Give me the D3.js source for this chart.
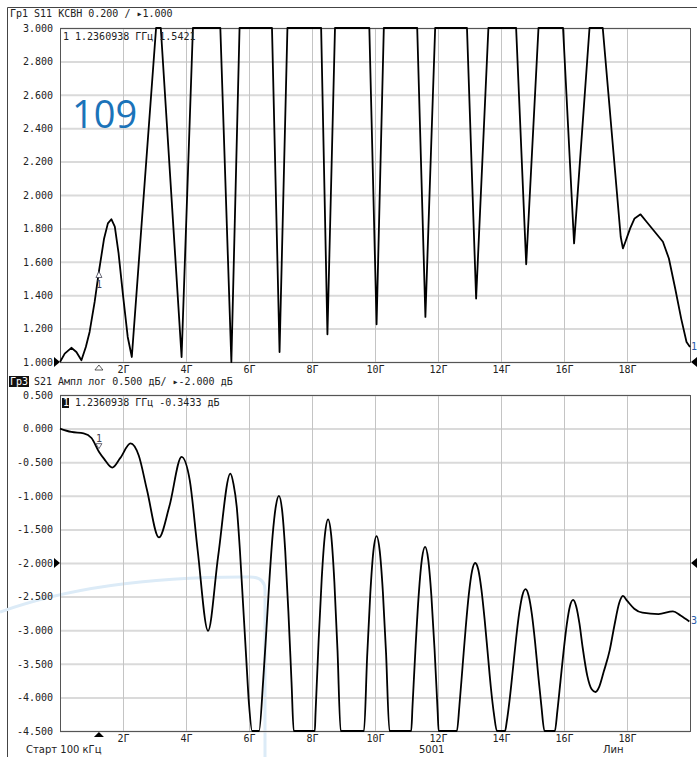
<!doctype html>
<html>
<head>
<meta charset="UTF-8">
<title>S11 / S21</title>
<script src="https://d3js.org/d3.v7.min.js"></script>
<style>
  body { margin: 0; background: #fff; }
  text { font-family: "DejaVu Sans Mono", monospace; font-size: 10px; fill: #222; }
</style>
</head>
<body>
<svg id="chart" width="698" height="757"></svg>
<script>
// ---- data ----
var freqTicks  = [2, 4, 6, 8, 10, 12, 14, 16, 18];
var freqLabels = ["2Г", "4Г", "6Г", "8Г", "10Г", "12Г", "14Г", "16Г", "18Г"];
var s11Ticks = [1.0, 1.2, 1.4, 1.6, 1.8, 2.0, 2.2, 2.4, 2.6, 2.8, 3.0];
var s21Ticks = [0.5, 0, -0.5, -1, -1.5, -2, -2.5, -3, -3.5, -4, -4.5];

// S11, VSWR (GHz)
var s11Freq = [0.0001, 0.15, 0.36, 0.52, 0.68, 0.82, 0.94, 1.1, 1.236, 1.4, 1.52, 1.63, 1.74, 1.86, 2.0, 2.15, 2.28,
  3.05, 3.2, 3.86, 4.22, 5.09, 5.44, 5.7, 6.73, 6.97, 7.22, 8.29, 8.49, 8.73, 9.82, 10.05, 10.28, 11.34, 11.6, 11.91,
  12.92, 13.21, 13.6, 14.48, 14.8, 15.19, 15.97, 16.32, 16.81, 17.23, 17.8, 17.87, 17.95, 18.1, 18.24, 18.43, 18.62, 18.88,
  19.14, 19.33, 19.53, 19.72, 19.89, 20];
var s11Vswr = [1.0, 1.05, 1.085, 1.06, 1.01, 1.09, 1.18, 1.36, 1.542, 1.74, 1.83, 1.855, 1.81, 1.65, 1.4, 1.15, 1.03,
  3.0, 3.0, 1.03, 3.0, 3.0, 1.0, 3.0, 3.0, 1.06, 3.0, 3.0, 1.166, 3.0, 3.0, 1.226, 3.0, 3.0, 1.27, 3.0,
  3.0, 1.38, 3.0, 3.0, 1.585, 3.0, 3.0, 1.71, 3.0, 3.0, 1.75, 1.68, 1.72, 1.8, 1.86, 1.884, 1.84, 1.78,
  1.72, 1.62, 1.44, 1.26, 1.12, 1.09];

// S21, dB (GHz)
var s21Freq = [0.0001, 0.36, 0.75, 1.0, 1.236, 1.4, 1.66, 1.91, 2.24, 2.5, 2.76, 3.14, 3.47, 3.86, 4.12, 4.37, 4.7,
  5.02, 5.41, 5.51, 5.61, 5.71, 5.81, 5.91, 6.0, 6.1,
  6.32, 6.45, 6.55, 6.65, 6.75, 6.85, 6.95, 7.05, 7.15, 7.25, 7.35, 7.42,
  8.09, 8.11, 8.21, 8.31, 8.41, 8.51, 8.61, 8.71, 8.81, 8.91,
  9.65, 9.75, 9.85, 9.95, 10.05, 10.15, 10.25, 10.35, 10.46,
  11.15, 11.19, 11.29, 11.39, 11.49, 11.59, 11.69, 11.79, 11.89, 11.99, 12.02,
  12.6, 12.68, 12.78, 12.88, 12.98, 13.08, 13.18, 13.28, 13.38, 13.48, 13.58, 13.68, 13.78, 13.87,
  14.13, 14.18, 14.28, 14.38, 14.48, 14.58, 14.68, 14.78, 14.88, 14.98, 15.08, 15.18, 15.28, 15.38,
  15.71, 15.79, 15.89, 15.99, 16.09, 16.19, 16.29, 16.39, 16.49, 16.59, 16.74, 16.88, 17.0, 17.12, 17.26,
  17.45, 17.6, 17.75, 17.87, 18.0, 18.23, 18.49, 19.0, 19.46, 19.7, 19.98];
var s21Db = [0.0, -0.05, -0.07, -0.14, -0.343, -0.45, -0.58, -0.44, -0.22, -0.4, -0.91, -1.62, -1.16, -0.42, -0.77, -1.81, -3.01,
  -1.9, -0.67, -0.83, -1.16, -1.8, -2.6, -3.4, -4.1, -4.5,
  -4.5, -3.75, -3.01, -2.24, -1.59, -1.16, -1.0, -1.21, -1.82, -2.72, -3.77, -4.5,
  -4.5, -4.26, -3.16, -2.22, -1.58, -1.35, -1.59, -2.28, -3.3, -4.5,
  -4.5, -3.4, -2.46, -1.82, -1.6, -1.82, -2.43, -3.33, -4.5,
  -4.5, -4.14, -3.23, -2.46, -1.94, -1.76, -1.95, -2.49, -3.28, -4.22, -4.5,
  -4.5, -4.12, -3.54, -2.96, -2.46, -2.12, -2.0, -2.1, -2.4, -2.84, -3.35, -3.86, -4.26, -4.5,
  -4.5, -4.37, -4.01, -3.57, -3.12, -2.74, -2.48, -2.39, -2.49, -2.76, -3.17, -3.66, -4.12, -4.5,
  -4.5, -4.2, -3.75, -3.3, -2.91, -2.64, -2.55, -2.65, -2.9, -3.25, -3.68, -3.88, -3.92, -3.84, -3.62,
  -3.3, -2.93, -2.6, -2.49, -2.56, -2.68, -2.74, -2.76, -2.72, -2.78, -2.87];

var markerFreq = 1.2360938;
var markerS11 = 1.5421;
var markerS21 = -0.3433;
var s11Ref = 1.0;
var s21Ref = -2.0;

// ---- scales ----
var svg = d3.select("#chart");
var x  = d3.scaleLinear().domain([0.0001, 20]).range([60, 690]);
var y1 = d3.scaleLinear().domain([1, 3]).range([362, 28]).clamp(true);
var y2 = d3.scaleLinear().domain([-4.5, 0.5]).range([731, 395]).clamp(true);

// outer frame (left + top)
svg.append("path")
   .attr("d", "M7.5,757 V7.5 H697")
   .attr("fill", "none")
   .attr("stroke", "#444");

// faint logo watermark behind the lower grid
svg.append("path")
   .attr("d", "M0,612 Q100,576 250,577 Q265,577 265,590 V757")
   .attr("fill", "none")
   .attr("stroke", "#dcebf7")
   .attr("stroke-width", 3);

function panel(y, ticks, top, bottom){
    // horizontal grid
    svg.append("g")
       .attr("transform", "translate(60,0)")
       .call(d3.axisLeft(y).tickValues(ticks).tickSize(-630).tickFormat(""))
       .call(function(g){
           g.select(".domain").remove();
           g.selectAll("line").attr("stroke", "#dadada").attr("stroke-width", 2);
       });
    // vertical grid
    svg.append("g")
       .attr("transform", "translate(0," + bottom + ")")
       .call(d3.axisBottom(x).tickValues(freqTicks).tickSize(-(bottom - top)).tickFormat(""))
       .call(function(g){
           g.select(".domain").remove();
           g.selectAll("line").attr("stroke", "#c4c4c4").attr("stroke-width", 1);
       });
    // y labels
    svg.append("g")
       .attr("transform", "translate(60,0)")
       .call(d3.axisLeft(y).tickValues(ticks).tickSize(0).tickPadding(7)
                .tickFormat(function(d){ return d.toFixed(3); }))
       .call(function(g){
           g.select(".domain").remove();
           g.selectAll("text").attr("font-family", "DejaVu Sans Mono").attr("font-size", 10).attr("fill", "#222");
       });
    // x labels
    svg.append("g")
       .attr("transform", "translate(0," + bottom + ")")
       .call(d3.axisBottom(x).tickValues(freqTicks).tickSize(0).tickPadding(4)
                .tickFormat(function(d, i){ return freqLabels[i]; }))
       .call(function(g){
           g.select(".domain").remove();
           g.selectAll("text").attr("font-family", "DejaVu Sans").attr("font-size", 10).attr("fill", "#333");
       });
    // frame
    svg.append("rect")
       .attr("x", 60.5).attr("y", top + 0.5)
       .attr("width", 630).attr("height", bottom - top)
       .attr("fill", "none")
       .attr("stroke", "#555");
}

panel(y1, s11Ticks, 28, 362);
panel(y2, s21Ticks, 395, 731);

// ---- traces ----
var line1 = d3.line()
    .x(function(d){ return x(s11Freq[d]); })
    .y(function(d){ return y1(s11Vswr[d]); });
svg.append("path")
   .attr("d", line1(d3.range(s11Freq.length)))
   .attr("fill", "none")
   .attr("stroke", "#000")
   .attr("stroke-width", 1.8)
   .attr("stroke-linejoin", "round");

var line2 = d3.line()
    .x(function(d){ return x(s21Freq[d]); })
    .y(function(d){ return y2(s21Db[d]); })
    .curve(d3.curveMonotoneX);
svg.append("path")
   .attr("d", line2(d3.range(s21Freq.length)))
   .attr("fill", "none")
   .attr("stroke", "#000")
   .attr("stroke-width", 1.8)
   .attr("stroke-linejoin", "round");

// ---- headers ----
svg.append("text").attr("x", 10).attr("y", 17)
   .text("Гр1 S11 КСВН 0.200 / ▸" + s11Ref.toFixed(3));

svg.append("rect").attr("x", 9).attr("y", 376).attr("width", 20).attr("height", 11).attr("fill", "#111");
svg.append("text").attr("x", 10).attr("y", 385).style("fill", "#fff").text("Гр3");
svg.append("text").attr("x", 34).attr("y", 385)
   .text("S21 Ампл лог 0.500 дБ/ ▸" + s21Ref.toFixed(3) + " дБ");

// marker readouts
svg.append("text").attr("x", 63).attr("y", 40)
   .text("1 " + markerFreq.toFixed(7) + " ГГц " + markerS11.toFixed(4));
svg.append("rect").attr("x", 62).attr("y", 398).attr("width", 7).attr("height", 10).attr("fill", "#111");
svg.append("text").attr("x", 63).attr("y", 406).style("fill", "#fff").text("1");
svg.append("text").attr("x", 75).attr("y", 406)
   .text(markerFreq.toFixed(7) + " ГГц " + markerS21.toFixed(4) + " дБ");

// big blue label
svg.append("text").attr("x", 72).attr("y", 128)
   .style("font-family", "Open Sans").style("font-size", "38px").style("fill", "#1b73b9")
   .text("109");

// ---- markers ----
var mx = x(markerFreq);
var m1 = y1(markerS11), m2 = y2(markerS21);
svg.append("path")
   .attr("d", "M" + mx + "," + m1 + " l-3,6 h6 z")
   .attr("fill", "#fff").attr("stroke", "#445").attr("stroke-width", 0.8);
svg.append("text").attr("x", mx).attr("y", m1 + 17).attr("text-anchor", "middle").style("fill", "#445").text("1");
svg.append("path")
   .attr("d", "M" + mx + "," + (m2 - 3) + " l-3,-5 h6 z")
   .attr("fill", "#fff").attr("stroke", "#445").attr("stroke-width", 0.8);
svg.append("text").attr("x", mx).attr("y", m2 - 10).attr("text-anchor", "middle").style("fill", "#445").text("1");

// marker position under the x axes
svg.append("path").attr("d", "M" + mx + ",365 l-4,5 h8 z")
   .attr("fill", "#fff").attr("stroke", "#333").attr("stroke-width", 0.8);
svg.append("path").attr("d", "M" + mx + ",732 l-5,5 h10 z").attr("fill", "#000");

// reference level arrows
[y1(s11Ref), y2(s21Ref)].forEach(function(r){
    svg.append("path").attr("d", "M54," + (r - 5) + " l6,5 l-6,5 z").attr("fill", "#000");
    svg.append("path").attr("d", "M697," + (r - 5) + " l-6,5 l6,5 z").attr("fill", "#000");
});

// trace end labels
svg.append("text").attr("x", 691).attr("y", y1(s11Vswr[s11Vswr.length - 1]) + 3)
   .style("fill", "#2b5ca8").text("1");
svg.append("text").attr("x", 691).attr("y", y2(s21Db[s21Db.length - 1]) + 3)
   .style("fill", "#2b5ca8").text("3");

// ---- footer ----
svg.append("text").attr("x", 26).attr("y", 753).style("font-family", "DejaVu Sans").text("Старт 100 кГц");
svg.append("text").attr("x", 419).attr("y", 753).style("font-family", "DejaVu Sans").text("5001");
svg.append("text").attr("x", 603).attr("y", 753).style("font-family", "DejaVu Sans").text("Лин");
</script>
</body>
</html>
